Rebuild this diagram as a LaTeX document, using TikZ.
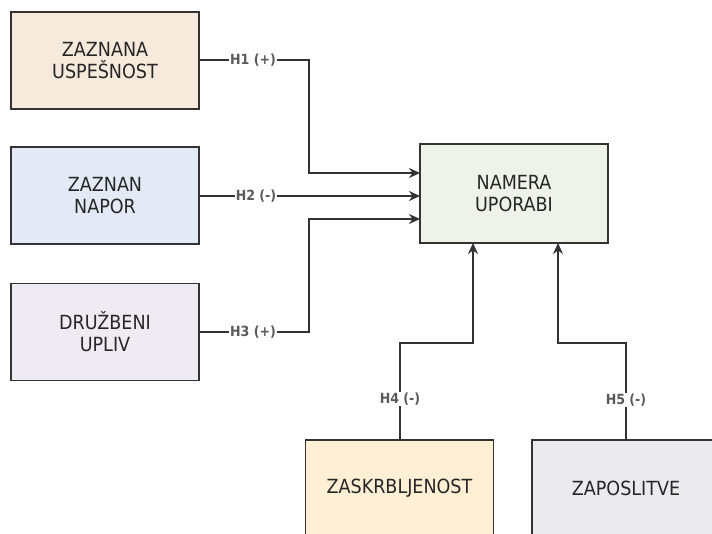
\documentclass[tikz,border=0pt]{standalone}
\usepackage{fontspec}
\setmainfont{DejaVu Sans Condensed}
\usetikzlibrary{arrows.meta}
\definecolor{cA}{HTML}{F5EADC}
\definecolor{cB}{HTML}{E3EAF5}
\definecolor{cC}{HTML}{F0EAF3}
\definecolor{cD}{HTML}{EEF3EA}
\definecolor{cE}{HTML}{FFEFD5}
\definecolor{cF}{HTML}{EBEBEE}
\definecolor{lineC}{HTML}{333333}
\definecolor{labC}{HTML}{5A5A5A}
\tikzset{
  box/.style={draw=lineC, line width=1.3pt, minimum width=188pt, minimum height=97pt,
    inner sep=0pt, align=center, font=\fontsize{19.5}{22}\selectfont, text=black!85},
  conn/.style={draw=lineC, line width=1.7pt},
  arr/.style={conn, -{Stealth[length=11pt,width=10pt]}},
  lab/.style={fill=white, inner sep=1pt, text=labC, font=\fontsize{14}{15}\selectfont\bfseries}
}
\begin{document}
\begin{tikzpicture}[x=1pt,y=-1pt]
\useasboundingbox (0,0) rectangle (712,533);
\clip (0,0) rectangle (712,533);
\fill[white] (0,0) rectangle (712,533);
\node[box, fill=cA] (zu) at (105,60.5) {ZAZNANA\\USPEŠNOST};
\node[box, fill=cB] (zn) at (105,195.5) {ZAZNAN\\NAPOR};
\node[box, fill=cC] (du) at (105,332) {DRUŽBENI\\UPLIV};
\node[box, fill=cD, minimum height=99pt] (nu) at (514,193.5) {NAMERA\\UPORABI};
\node[box, fill=cE] (za) at (399.5,488.5) {ZASKRBLJENOST};
\node[box, fill=cF] (zp) at (626,488.5) {ZAPOSLITVE};
\coordinate (nu1) at (420,173);
\coordinate (nu2) at (420,196);
\coordinate (nu3) at (420,219);
\coordinate (nu4) at (473,243);
\coordinate (nu5) at (558,243);
\draw[arr] (zu.east |- 0,60) -- (309,60) -- (309,173) -- (nu1);
\draw[arr] (zn.east |- 0,196) -- (nu2);
\draw[arr] (du.east |- 0,332) -- (309,332) -- (309,219) -- (nu3);
\draw[arr] (za.north -| 400,0) -- (400,343) -- (473,343) -- (nu4);
\draw[arr] (zp.north -| 626,0) -- (626,343) -- (558,343) -- (nu5);
\node[lab] (l1) at (253,60) {H1 (+)};
\node[lab] (l2) at (256,196) {H2 (-)};
\node[lab] (l3) at (253,332) {H3 (+)};
\node[lab] (l4) at (400,399) {H4 (-)};
\node[lab] (l5) at (626,400) {H5 (-)};
\end{tikzpicture}
\end{document}
